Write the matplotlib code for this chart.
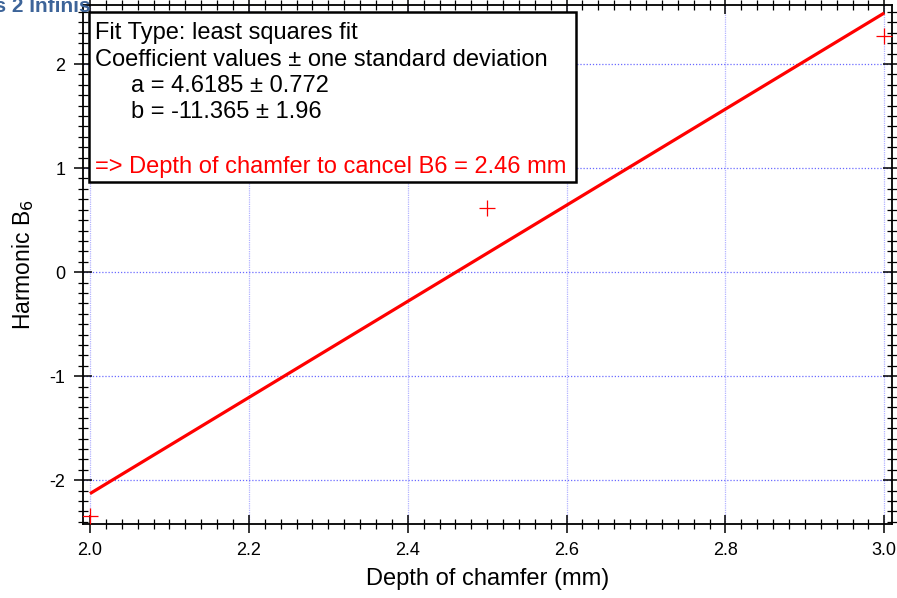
import numpy as np
import matplotlib
matplotlib.use("Agg")
import matplotlib.pyplot as plt
from matplotlib.ticker import MultipleLocator, FormatStrFormatter
from matplotlib.patches import Rectangle

plt.rcParams['font.family'] = ['Liberation Sans', 'DejaVu Sans']

# data
depth = [2.0, 2.5, 3.0]
b6 = [-2.347, 0.62, 2.271]
coef_a = 4.6185
coef_b = -11.365
fit_x = [2.0, 3.0]
box_lines = ["Fit Type: least squares fit",
             "Coefficient values \u00b1 one standard deviation",
             "a = 4.6185 \u00b1 0.772",
             "b = -11.365 \u00b1 1.96"]
result_line = "=> Depth of chamfer to cancel B6 = 2.46 mm"

W, H = 897, 598
fig = plt.figure(figsize=(W / 100, H / 100), dpi=100)
L, R, T, B = 82.7, 891.7, 5.0, 524.3
ax = fig.add_axes([L / W, 1 - B / H, (R - L) / W, (B - T) / H])

def px(x, y):
    return (x / W, 1 - y / H)

ax.set_xlim(1.9908, 3.0093)
ax.set_ylim(-2.423, 2.567)

# grid
for xv in np.arange(2.0, 3.01, 0.2):
    ax.axvline(xv, color='#b4b4ff', lw=0.9, ls=(0, (1, 0.8)), zorder=0)
for yv in [-2, -1, 0, 1, 2]:
    ax.axhline(yv, color='#6a6aff', lw=0.9, ls=(0, (1, 1.5)), zorder=0)

fx = np.array(fit_x)
ax.plot(fx, coef_a * fx + coef_b, color='#ff0000', lw=2.3, zorder=3,
        solid_capstyle='butt')
ax.plot(depth, b6, ls='none', marker='+', color='#ff0000', ms=11, mew=0.9, zorder=4)

ax.xaxis.set_major_locator(MultipleLocator(0.2))
ax.xaxis.set_minor_locator(MultipleLocator(0.02))
ax.yaxis.set_major_locator(MultipleLocator(1))
ax.yaxis.set_minor_locator(MultipleLocator(0.1))
ax.xaxis.set_major_formatter(FormatStrFormatter('%.1f'))
ax.yaxis.set_major_formatter(FormatStrFormatter('%d'))
ax.tick_params(which='both', direction='inout', top=True, right=True,
               labeltop=False, labelright=False, color='black')
ax.tick_params(which='major', length=13, width=1.1, labelsize=13, pad=6)
ax.tick_params(which='minor', length=7, width=0.9)
for s in ax.spines.values():
    s.set_linewidth(1.3)

ax.set_xlabel('Depth of chamfer (mm)', fontsize=17, labelpad=7)
ax.set_ylabel('Harmonic B$_6$', fontsize=16.5, labelpad=10)

# annotation box
x0, y0 = px(89.3, 181.7)
x1, y1 = px(576, 12.3)
fig.patches.append(Rectangle((x0, y0), x1 - x0, y1 - y0, transform=fig.transFigure,
                             facecolor='white', edgecolor='black', lw=1.8, zorder=10))
baselines = [39.3, 65.8, 92.0, 118.3]
xs = [95, 95, 130.7, 130.7]
for txt, yb, xx in zip(box_lines, baselines, xs):
    fig.text(*px(xx, yb), txt, fontsize=17, color='black', va='baseline', ha='left', zorder=11)
fig.text(*px(95, 173.3), result_line, fontsize=17, color='#ff0000', va='baseline', ha='left', zorder=11)

# cropped logo watermark
fig.text(*px(-31, 12), 'ons 2 Infinis', fontsize=15, fontweight='bold', color='#3d6499',
         va='baseline', ha='left', zorder=1)

fig.savefig('out.png', dpi=100)
